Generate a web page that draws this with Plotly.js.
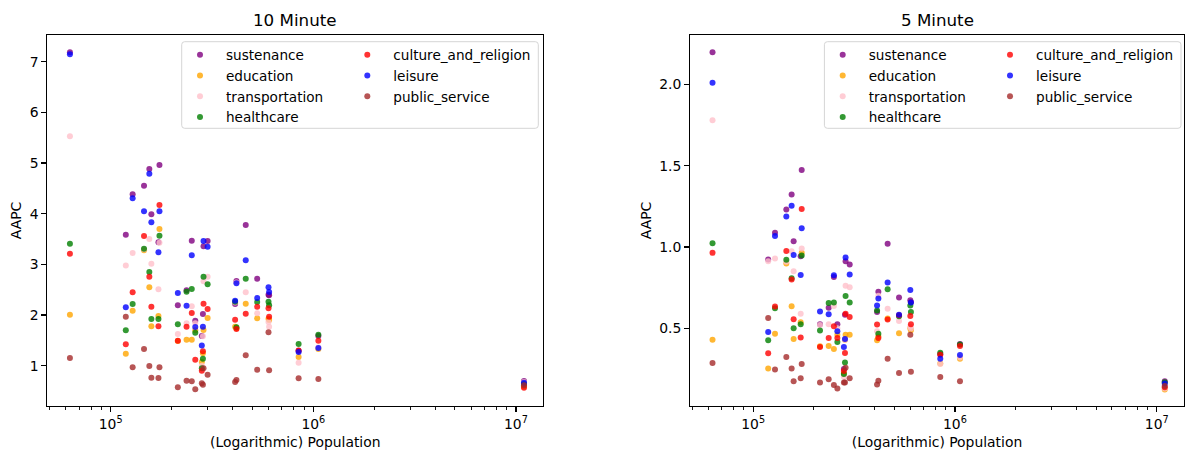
<!DOCTYPE html>
<html><head><meta charset="utf-8">
<script src="https://cdn.plot.ly/plotly-3.0.1.min.js"></script>
<style>html,body{margin:0;padding:0;background:#fff}#chart{width:1185px;height:454px}</style>
</head><body><div id="chart"></div>
<script>
// ---- data ----
const population = [62900, 118700, 128300, 146000, 155100, 158700, 172000, 174000, 214400, 236700, 251200, 261400, 281600, 285100, 287100, 300800, 411100, 417300, 463800, 528200, 600800, 605000, 845800, 1058800, 10955000];

const categories = ['sustenance', 'education', 'transportation', 'healthcare', 'culture_and_religion', 'leisure', 'public_service'];
const categoryColors = ['purple', 'orange', 'pink', 'green', 'red', 'blue', 'brown'];

// 10 minute AAPC
const sustenance10     = [7.185, 3.585, 4.383, 4.552, 4.882, 3.988, 3.435, 4.961, 2.192, 2.488, 3.467, 1.888, 1.586, 2.02, 3.36, 3.461, 2.218, 2.671, 3.777, 2.717, 2.40, 2.39, 1.296, 1.586, 0.70];
const education10      = [2.007, 1.237, 2.086, 3.28, 2.547, 1.78, 1.981, 3.698, 1.49, 1.513, 1.513, 1.70, 1.073, 1.244, 1.705, 1.941, 1.770, 1.74, 2.224, 1.935, 1.928, 1.90, 1.172, 1.33, 0.59];
const transportation10 = [5.527, 2.98, 3.224, 3.30, 3.50, 3.013, 2.508, 3.428, 1.626, 1.837, 2.172, 1.84, 1.0, 1.58, 2.665, 2.757, 2.25, 2.64, 2.448, 2.034, 1.862, 1.770, 1.06, 1.36, 0.68];
const healthcare10     = [3.408, 1.699, 2.218, 3.31, 2.849, 1.92, 1.92, 3.566, 1.817, 2.461, 2.514, 1.651, 0.95, 1.138, 2.757, 2.606, 2.26, 1.758, 2.717, 2.257, 2.263, 2.192, 1.428, 1.612, 0.64];
const culture10        = [3.21, 1.422, 2.448, 3.56, 2.757, 2.164, 1.777, 4.171, 1.494, 1.77, 2.04, 1.118, 0.901, 1.284, 2.224, 2.119, 1.908, 1.724, 2.026, 2.164, 2.132, 1.967, 1.30, 1.494, 0.566];
const leisure10        = [7.146, 2.152, 4.304, 4.047, 4.79, 3.83, 3.238, 4.047, 2.435, 2.184, 3.179, 1.764, 1.40, 1.77, 3.46, 3.35, 2.283, 2.626, 3.08, 2.336, 2.547, 2.455, 1.27, 1.349, 0.665];
const publicService10  = [1.152, 1.967, 0.968, 1.33, 0.994, 0.763, 0.757, 0.968, 0.574, 0.704, 0.692, 0.534, 0.653, 0.625, 0.948, 0.822, 0.678, 0.718, 1.205, 0.921, 1.659, 0.909, 0.751, 0.737, 0.613];

// 5 minute AAPC
const sustenance5      = [2.198, 0.923, 1.087, 1.231, 1.323, 1.036, 0.943, 1.473, 0.525, 0.627, 0.816, 0.525, 0.25, 0.584, 0.913, 0.892, 0.60, 0.724, 1.02, 0.689, 0.672, 0.66, 0.34, 0.403, 0.174];
const education5       = [0.430, 0.252, 0.467, 0.898, 0.635, 0.434, 0.537, 0.964, 0.39, 0.391, 0.373, 0.461, 0.22, 0.430, 0.46, 0.461, 0.426, 0.45, 0.560, 0.469, 0.50, 0.488, 0.283, 0.313, 0.123];
const transportation5  = [1.779, 0.913, 0.929, 0.91, 0.974, 0.851, 0.590, 0.991, 0.52, 0.525, 0.637, 0.50, 0.20, 0.43, 0.761, 0.752, 0.482, 0.70, 0.62, 0.545, 0.51, 0.498, 0.28, 0.32, 0.13];
const healthcare5      = [1.023, 0.426, 0.623, 0.921, 0.808, 0.50, 0.525, 0.948, 0.486, 0.656, 0.658, 0.416, 0.219, 0.289, 0.699, 0.658, 0.609, 0.467, 0.740, 0.574, 0.640, 0.600, 0.350, 0.40, 0.168];
const culture5         = [0.964, 0.346, 0.634, 0.976, 0.80, 0.555, 0.443, 1.233, 0.385, 0.44, 0.512, 0.44, 0.237, 0.348, 0.590, 0.570, 0.523, 0.440, 0.554, 0.58, 0.576, 0.525, 0.338, 0.391, 0.138];
const leisure5         = [2.011, 0.477, 1.068, 1.188, 1.253, 0.951, 0.828, 1.116, 0.603, 0.586, 0.826, 0.482, 0.385, 0.434, 0.935, 0.831, 0.640, 0.683, 0.781, 0.584, 0.736, 0.658, 0.313, 0.336, 0.160];
const publicService5   = [0.286, 0.563, 0.246, 0.323, 0.252, 0.175, 0.192, 0.280, 0.166, 0.186, 0.151, 0.129, 0.166, 0.166, 0.258, 0.192, 0.154, 0.178, 0.313, 0.225, 0.461, 0.232, 0.200, 0.175, 0.145];

const panelTitles = ['10 Minute', '5 Minute'];
const xTickVals = [1e5, 1e6, 1e7];
const xTickText = ['10<sup>5</sup>', '10<sup>6</sup>', '10<sup>7</sup>'];
const xMinorVals = [5e4, 6e4, 7e4, 8e4, 9e4, 2e5, 3e5, 4e5, 5e5, 6e5, 7e5, 8e5, 9e5, 2e6, 3e6, 4e6, 5e6, 6e6, 7e6, 8e6, 9e6];
const yTickVals10 = [1, 2, 3, 4, 5, 6, 7];
const yTickText10 = ['1', '2', '3', '4', '5', '6', '7'];
const yTickVals5 = [0.5, 1.0, 1.5, 2.0];
const yTickText5 = ['0.5', '1.0', '1.5', '2.0'];
const xTitle = '(Logarithmic) Population';
const yTitle = 'AAPC';

const series10 = [sustenance10, education10, transportation10, healthcare10, culture10, leisure10, publicService10];
const series5 = [sustenance5, education5, transportation5, healthcare5, culture5, leisure5, publicService5];

// ---- layout helpers ----
const W = 1185, H = 454;
const FONT = 'DejaVu Sans, Liberation Sans, sans-serif';
const px = x => x / W;
const py = y => (H - y) / H;
const L = {x0: 47.3, x1: 543.3}, R = {x0: 690, x1: 1184};
const TOP = 35, BOT = 406;

const traces = [];
categories.forEach((name, i) => {
  traces.push({
    type: 'scatter', mode: 'markers', name: name, x: population, y: series10[i],
    xaxis: 'x', yaxis: 'y', legend: i < 4 ? 'legend' : 'legend2',
    marker: {color: categoryColors[i], size: 6, opacity: 0.8, line: {width: 0}},
    hoverinfo: 'skip'
  });
});
categories.forEach((name, i) => {
  traces.push({
    type: 'scatter', mode: 'markers', name: name, x: population, y: series5[i],
    xaxis: 'x2', yaxis: 'y2', legend: i < 4 ? 'legend3' : 'legend4',
    marker: {color: categoryColors[i], size: 6, opacity: 0.8, line: {width: 0}},
    hoverinfo: 'skip'
  });
});

const tickFont = {family: FONT, size: 13.9, color: 'black'};
const axBase = {
  showline: true, mirror: true, linecolor: 'black', linewidth: 1.1,
  ticks: 'outside', ticklen: 4.9, tickwidth: 1.1, tickcolor: 'black',
  showgrid: false, zeroline: false, tickfont: tickFont, fixedrange: true
};
function xAxis(dom) {
  return Object.assign({}, axBase, {
    type: 'log', range: [4.687, 7.135], domain: dom,
    tickmode: 'array', tickvals: xTickVals, ticktext: xTickText,
    minor: {tickmode: 'array', tickvals: xMinorVals, ticks: 'outside', ticklen: 2.8, tickwidth: 0.9, tickcolor: 'black', showgrid: false},
    title: {text: xTitle, font: tickFont, standoff: 6}
  });
}
function yAxis(range, vals, text) {
  return Object.assign({}, axBase, {
    range: range, domain: [py(BOT), py(TOP)],
    tickmode: 'array', tickvals: vals, ticktext: text,
    title: {text: yTitle, font: tickFont, standoff: 4}
  });
}

function legendAt(xpx) {
  return {
    x: px(xpx), y: py(39.5), xanchor: 'left', yanchor: 'top', orientation: 'v',
    bgcolor: 'rgba(0,0,0,0)', borderwidth: 0, itemwidth: 42,
    font: {family: FONT, size: 13.6, color: 'black'}, itemclick: false, itemdoubleclick: false
  };
}

function roundBox(x0, y0, x1, y1, r) {
  const X0 = px(x0), X1 = px(x1), Y0 = py(y0), Y1 = py(y1);
  const rx = r / W, ry = r / H;
  return 'M ' + (X0 + rx) + ',' + Y0 + ' L ' + (X1 - rx) + ',' + Y0 + ' Q ' + X1 + ',' + Y0 + ' ' + X1 + ',' + (Y0 - ry) +
    ' L ' + X1 + ',' + (Y1 + ry) + ' Q ' + X1 + ',' + Y1 + ' ' + (X1 - rx) + ',' + Y1 +
    ' L ' + (X0 + rx) + ',' + Y1 + ' Q ' + X0 + ',' + Y1 + ' ' + X0 + ',' + (Y1 + ry) +
    ' L ' + X0 + ',' + (Y0 - ry) + ' Q ' + X0 + ',' + Y0 + ' ' + (X0 + rx) + ',' + Y0 + ' Z';
}
const legendShape = (dx) => ({
  type: 'path', xref: 'paper', yref: 'paper', layer: 'above',
  path: roundBox(181.7 + dx, 41.7, 538.3 + dx, 128.3, 3),
  fillcolor: 'rgba(255,255,255,0.8)', line: {color: '#d5d5d5', width: 1}
});

const layout = {
  width: W, height: H, margin: {l: 0, r: 0, t: 0, b: 0, autoexpand: false},
  paper_bgcolor: 'white', plot_bgcolor: 'white', showlegend: true,
  font: {family: FONT, color: 'black'},
  xaxis: Object.assign(xAxis([px(L.x0), px(L.x1)]), {anchor: 'y'}),
  yaxis: Object.assign(yAxis([0.205, 7.527], yTickVals10, yTickText10), {anchor: 'x'}),
  xaxis2: Object.assign(xAxis([px(R.x0), px(R.x1)]), {anchor: 'y2'}),
  yaxis2: Object.assign(yAxis([0.022, 2.304], yTickVals5, yTickText5), {anchor: 'x2'}),
  legend: legendAt(174), legend2: legendAt(341.3),
  legend3: legendAt(174 + 642.7), legend4: legendAt(341.3 + 642.7),
  shapes: [legendShape(0), legendShape(642.7)],
  annotations: [
    {text: panelTitles[0], xref: 'paper', yref: 'paper', x: px((L.x0 + L.x1) / 2), y: py(20), xanchor: 'center', yanchor: 'middle', showarrow: false, font: {family: FONT, size: 16.7, color: 'black'}},
    {text: panelTitles[1], xref: 'paper', yref: 'paper', x: px((R.x0 + R.x1) / 2), y: py(20), xanchor: 'center', yanchor: 'middle', showarrow: false, font: {family: FONT, size: 16.7, color: 'black'}}
  ]
};

Plotly.newPlot('chart', traces, layout, {displayModeBar: false, staticPlot: true});
</script>
</body></html>
